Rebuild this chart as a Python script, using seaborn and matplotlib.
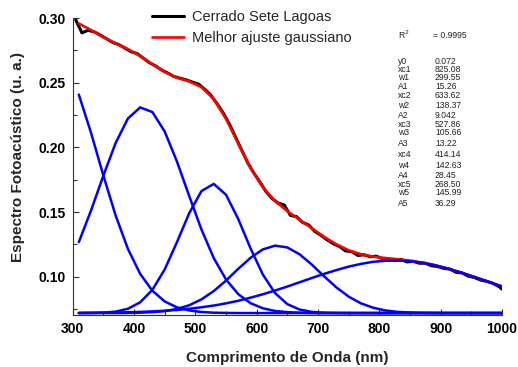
import numpy as np
import pandas as pd
import matplotlib
matplotlib.use("Agg")
import matplotlib.pyplot as plt
import seaborn as sns

# ---------------- data ----------------
wl_data = [305, 315, 325, 335, 345, 355, 365, 375, 385, 395, 405, 415, 425, 435, 445, 455,
           465, 475, 485, 495, 505, 515, 525, 535, 545, 555, 565, 575, 585, 595, 605, 615,
           625, 635, 645, 655, 665, 675, 685, 695, 705, 715, 725, 735, 745, 755, 765, 775,
           785, 795, 805, 815, 825, 835, 845, 855, 865, 875, 885, 895, 905, 915, 925, 935,
           945, 955, 965, 975, 985, 995, 1000]
cerrado = [0.2985, 0.2885, 0.2905, 0.2893, 0.2868, 0.2840, 0.2812, 0.2795, 0.2768, 0.2740,
           0.2725, 0.2690, 0.2655, 0.2630, 0.2598, 0.2575, 0.2548, 0.2535, 0.2522, 0.2505,
           0.2490, 0.2450, 0.2405, 0.2340, 0.2270, 0.2185, 0.2085, 0.1985, 0.1885, 0.1805,
           0.1735, 0.1660, 0.1605, 0.1570, 0.1555, 0.1475, 0.1465, 0.1420, 0.1400, 0.1350,
           0.1320, 0.1285, 0.1255, 0.1235, 0.1200, 0.1195, 0.1165, 0.1170, 0.1155, 0.1160,
           0.1140, 0.1140, 0.1125, 0.1135, 0.1115, 0.1120, 0.1105, 0.1105, 0.1085, 0.1080,
           0.1065, 0.1060, 0.1035, 0.1030, 0.1005, 0.0995, 0.0975, 0.0965, 0.0950, 0.0925,
           0.0905]

wl_fit = [310, 330, 350, 370, 390, 410, 430, 450, 470, 490, 510, 530, 550, 570, 590, 610,
          630, 650, 670, 690, 710, 730, 750, 770, 790, 810, 830, 850, 870, 890, 910, 930,
          950, 970, 990, 1000]
fit_total = [0.2957, 0.2907, 0.2852, 0.2804, 0.2760, 0.2706, 0.2643, 0.2583, 0.2539, 0.2510,
             0.2466, 0.2374, 0.2221, 0.2030, 0.1842, 0.1692, 0.1585, 0.1508, 0.1441, 0.1375,
             0.1309, 0.1251, 0.1205, 0.1175, 0.1156, 0.1145, 0.1136, 0.1125, 0.1110, 0.1091,
             0.1066, 0.1038, 0.1007, 0.0975, 0.0942, 0.0926]
peak1 = [0.0721, 0.0722, 0.0723, 0.0724, 0.0726, 0.0729, 0.0733, 0.0738, 0.0744, 0.0753,
         0.0765, 0.0778, 0.0795, 0.0815, 0.0839, 0.0865, 0.0894, 0.0925, 0.0958, 0.0991,
         0.1023, 0.1052, 0.1079, 0.1100, 0.1116, 0.1124, 0.1126, 0.1121, 0.1109, 0.1090,
         0.1066, 0.1038, 0.1007, 0.0975, 0.0942, 0.0926]
peak2 = [0.0720, 0.0720, 0.0720, 0.0720, 0.0721, 0.0723, 0.0727, 0.0735, 0.0752, 0.0780,
         0.0826, 0.0890, 0.0971, 0.1062, 0.1147, 0.1212, 0.1241, 0.1227, 0.1174, 0.1094,
         0.1004, 0.0918, 0.0847, 0.0795, 0.0761, 0.0740, 0.0729, 0.0724, 0.0722, 0.0721,
         0.0720, 0.0720, 0.0720, 0.0720, 0.0720, 0.0720]
peak3 = [0.0720, 0.0721, 0.0723, 0.0731, 0.0753, 0.0803, 0.0900, 0.1057, 0.1268, 0.1492,
         0.1663, 0.1718, 0.1634, 0.1446, 0.1220, 0.1018, 0.0874, 0.0789, 0.0747, 0.0729,
         0.0723, 0.0721, 0.0720, 0.0720, 0.0720, 0.0720, 0.0720, 0.0720, 0.0720, 0.0720,
         0.0720, 0.0720, 0.0720, 0.0720, 0.0720, 0.0720]
peak4 = [0.1268, 0.1514, 0.1782, 0.2034, 0.2223, 0.2309, 0.2273, 0.2123, 0.1891, 0.1624,
         0.1365, 0.1145, 0.0979, 0.0866, 0.0796, 0.0757, 0.0736, 0.0727, 0.0723, 0.0721,
         0.0720, 0.0720, 0.0720, 0.0720, 0.0720, 0.0720, 0.0720, 0.0720, 0.0720, 0.0720,
         0.0720, 0.0720, 0.0720, 0.0720, 0.0720, 0.0720]
peak5 = [0.2408, 0.2111, 0.1783, 0.1474, 0.1216, 0.1023, 0.0892, 0.0810, 0.0764, 0.0740,
         0.0728, 0.0723, 0.0721, 0.0720, 0.0720, 0.0720, 0.0720, 0.0720, 0.0720, 0.0720,
         0.0720, 0.0720, 0.0720, 0.0720, 0.0720, 0.0720, 0.0720, 0.0720, 0.0720, 0.0720,
         0.0720, 0.0720, 0.0720, 0.0720, 0.0720, 0.0720]

param_names = ["y0", "xc1", "w1", "A1", "xc2", "w2", "A2", "xc3", "w3", "A3",
               "xc4", "w4", "A4", "xc5", "w5", "A5"]
param_values = ["0.072", "825.08", "299.55", "15.26", "633.62", "138.37", "9.042",
                "527.86", "105.66", "13.22", "414.14", "142.63", "28.45", "268.50",
                "145.99", "36.29"]
r2_text = "= 0.9995"

x_ticks = [300, 400, 500, 600, 700, 800, 900, 1000]
y_ticks = [0.10, 0.15, 0.20, 0.25, 0.30]

# ---------------- style ----------------
sns.set_style("ticks")
plt.rcParams["font.family"] = ["Liberation Sans", "DejaVu Sans"]

W, H = 518, 367
fig = plt.figure(figsize=(W / 100, H / 100), dpi=100)
ax = fig.add_axes([72.7 / W, 1 - 315 / H, (502 - 72.7) / W, (315 - 18) / H])

df_data = pd.DataFrame({"wl": wl_data, "y": cerrado})
df_fit = pd.DataFrame({"wl": wl_fit, "fit": fit_total, "p1": peak1, "p2": peak2,
                       "p3": peak3, "p4": peak4, "p5": peak5})

sns.lineplot(data=df_data, x="wl", y="y", ax=ax, color="black", lw=2.2,
             label="Cerrado Sete Lagoas")
sns.lineplot(data=df_fit, x="wl", y="fit", ax=ax, color="#ff0000", lw=1.9,
             label="Melhor ajuste gaussiano")
for col in ["p1", "p2", "p3", "p4", "p5"]:
    sns.lineplot(data=df_fit, x="wl", y=col, ax=ax, color="#0000ff", lw=1.8,
                 legend=False)

ax.set_xlim(300, 1000)
ax.set_ylim(0.0705, 0.30)
ax.set_xticks(x_ticks)
ax.set_xticklabels([str(t) for t in x_ticks])
ax.set_yticks(y_ticks)
ax.set_yticklabels([f"{t:.2f}" for t in y_ticks])
ax.set_xticks(np.arange(350, 1000, 100), minor=True)
ax.set_yticks([0.075, 0.125, 0.175, 0.225, 0.275], minor=True)
ax.tick_params(axis="both", which="major", direction="in", length=4, width=0.8,
               labelsize=10, pad=5, colors="#333333", labelcolor="black")
ax.tick_params(axis="both", which="minor", direction="in", length=3, width=0.8,
               colors="#333333")
for lab in ax.get_xticklabels() + ax.get_yticklabels():
    lab.set_fontweight("bold")

sns.despine(ax=ax)
for s in ["left", "bottom"]:
    ax.spines[s].set_linewidth(0.8)
    ax.spines[s].set_color("#333333")

ax.set_xlabel("Comprimento de Onda (nm)", fontsize=11, fontweight="bold", labelpad=11)
ax.set_ylabel("Espectro Fotoacústico (u. a.)", fontsize=11, fontweight="bold")
ax.yaxis.set_label_coords(-0.112, 0.532)

leg = ax.legend(loc="upper left", bbox_to_anchor=(0.17, 1.045), frameon=False,
                fontsize=10.5, handlelength=2.2, handletextpad=0.55, labelspacing=0.45,
                borderaxespad=0)

# parameter table
fs = 6.2
fig.text(398 / W, 1 - 35 / H, "R$^2$", fontsize=fs, va="center", ha="left", color="#222222")
fig.text(433 / W, 1 - 35 / H, r2_text, fontsize=fs, va="center", ha="left", color="#222222")
rows_y = [61.7, 70, 78, 86.5, 95.5, 105.5, 115.5, 124.5, 132.5, 143.5,
          154.5, 165.5, 175.5, 184.5, 192.5, 203.5]
for name, val, yy in zip(param_names, param_values, rows_y):
    fig.text(398 / W, 1 - yy / H, name, fontsize=fs, va="center", ha="left", color="#222222")
    fig.text(435 / W, 1 - yy / H, val, fontsize=fs, va="center", ha="left", color="#222222")

fig.savefig("out.png", dpi=100)
